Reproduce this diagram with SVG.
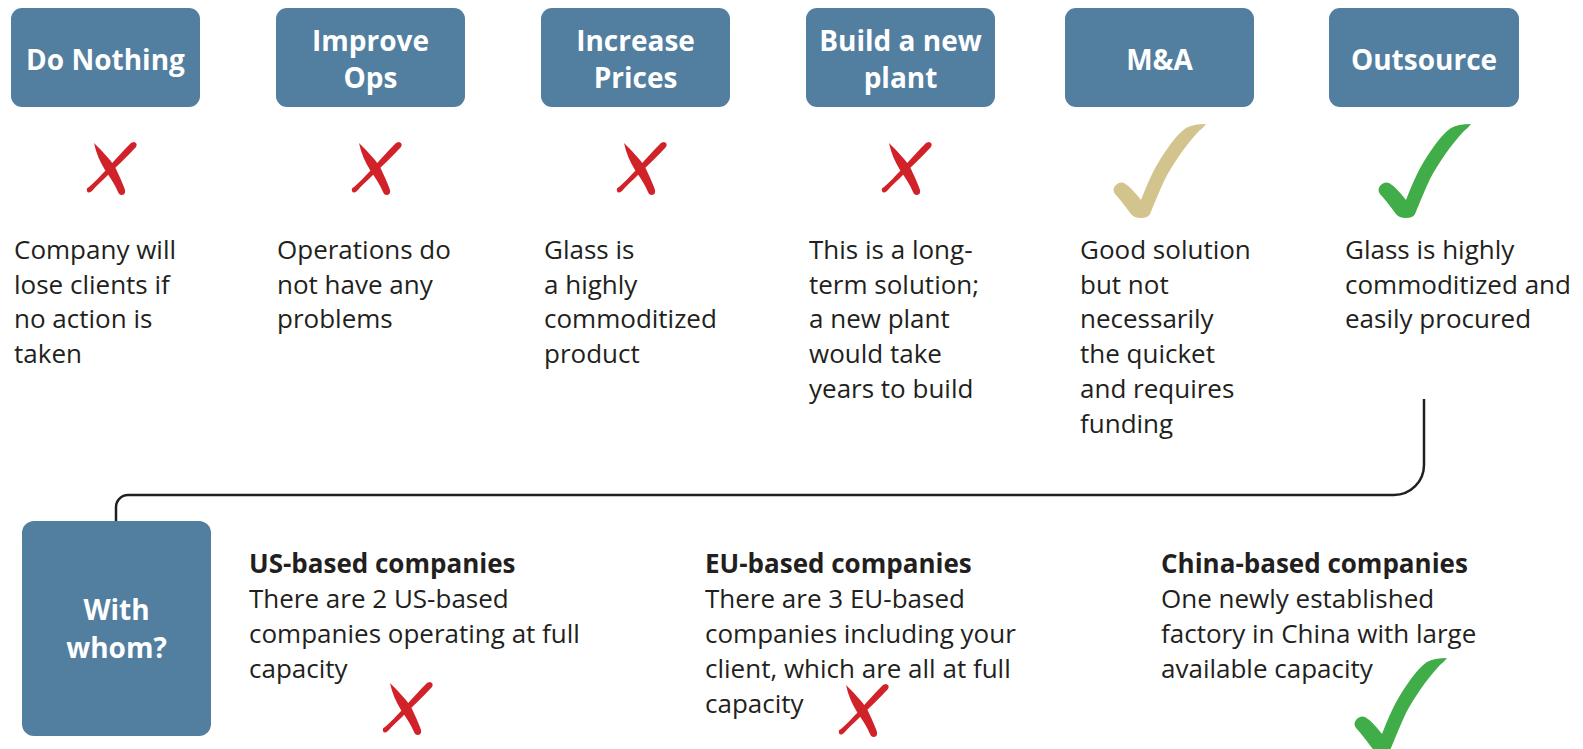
<svg xmlns="http://www.w3.org/2000/svg" width="1583" height="749" viewBox="0 0 1583 749">
<style>
.box{fill:#527ea0}
.bt{font-family:"Open Sans","Noto Sans",sans-serif;font-weight:700;font-size:28px;fill:#ffffff;text-anchor:middle}
.tx{font-family:"Open Sans","Noto Sans",sans-serif;font-size:26px;fill:#231f20}
.hd{font-family:"Open Sans","Noto Sans",sans-serif;font-size:26px;font-weight:700;fill:#231f20}
.red{fill:#d12229}
.tan{fill:#d3c48d}
.grn{fill:#41ad49}
.conn{fill:none;stroke:#231f20;stroke-width:2.5}
</style>
<defs>
<g id="cross">
<path d="M8,1 C15,8 24,17 29,25 C33,33 37,42 39,48 Q40,53 35,53 Q33,53 32,50 C29,43 24,35 19,28 C14,20 10,11 8,1 Z"/>
<path d="M48,0 Q52,1 50,5 C41,15 31,24 23,32 C16,39 10,44 6,49 Q2,52 1,49 Q0,46 3,45 C9,40 14,34 20,28 C27,20 36,10 43,3 Q45,0 48,0 Z"/>
</g>
<path id="check" d="M18,90 C12,82 6,74 2,70 Q-1,66 2,62 Q6,57 11,59 Q18,63 28,76 C34,60 42,42 52,28 C60,16 67,8 73,4 Q80,0 93,0 Q90,4 86,7 C72,22 60,40 52,55 C46,68 41,80 37,90 Q35,94 28,94 Q21,94 18,90 Z"/>
</defs>

<g id="connectors">
<path class="conn" d="M1424,399 V465 A30,30 0 0 1 1394,495 H128 A12,12 0 0 0 116,507 V521"/>
</g>

<g id="node-do-nothing">
<rect class="box" x="11" y="8" width="189" height="99" rx="11"/>
<text class="bt" x="105.5" y="70">Do Nothing</text>
<use href="#cross" class="red" x="86" y="142"/>
<text class="tx" x="14" y="259">Company will</text>
<text class="tx" x="14" y="294">lose clients if</text>
<text class="tx" x="14" y="328">no action is</text>
<text class="tx" x="14" y="363">taken</text>
</g>

<g id="node-improve-ops">
<rect class="box" x="276" y="8" width="189" height="99" rx="11"/>
<text class="bt" x="370.5" y="51">Improve</text>
<text class="bt" x="370.5" y="88">Ops</text>
<use href="#cross" class="red" x="351" y="142"/>
<text class="tx" x="277" y="259">Operations do</text>
<text class="tx" x="277" y="294">not have any</text>
<text class="tx" x="277" y="328">problems</text>
</g>

<g id="node-increase-prices">
<rect class="box" x="541" y="8" width="189" height="99" rx="11"/>
<text class="bt" x="635.5" y="51">Increase</text>
<text class="bt" x="635.5" y="88">Prices</text>
<use href="#cross" class="red" x="616" y="142"/>
<text class="tx" x="544" y="259">Glass is</text>
<text class="tx" x="544" y="294">a highly</text>
<text class="tx" x="544" y="328">commoditized</text>
<text class="tx" x="544" y="363">product</text>
</g>

<g id="node-build-plant">
<rect class="box" x="806" y="8" width="189" height="99" rx="11"/>
<text class="bt" x="900.5" y="51">Build a new</text>
<text class="bt" x="900.5" y="88">plant</text>
<use href="#cross" class="red" x="881" y="142"/>
<text class="tx" x="809" y="259">This is a long-</text>
<text class="tx" x="809" y="294">term solution;</text>
<text class="tx" x="809" y="328">a new plant</text>
<text class="tx" x="809" y="363">would take</text>
<text class="tx" x="809" y="398">years to build</text>
</g>

<g id="node-ma">
<rect class="box" x="1065" y="8" width="189" height="99" rx="11"/>
<text class="bt" x="1159.5" y="70">M&amp;A</text>
<use href="#check" class="tan" x="1113" y="124"/>
<text class="tx" x="1080" y="259">Good solution</text>
<text class="tx" x="1080" y="294">but not</text>
<text class="tx" x="1080" y="328">necessarily</text>
<text class="tx" x="1080" y="363">the quicket</text>
<text class="tx" x="1080" y="398">and requires</text>
<text class="tx" x="1080" y="433">funding</text>
</g>

<g id="node-outsource">
<rect class="box" x="1329" y="8" width="190" height="99" rx="11"/>
<text class="bt" x="1424" y="70">Outsource</text>
<use href="#check" class="grn" x="1378" y="124"/>
<text class="tx" x="1345" y="259">Glass is highly</text>
<text class="tx" x="1345" y="294">commoditized and</text>
<text class="tx" x="1345" y="328">easily procured</text>
</g>

<g id="node-with-whom">
<rect class="box" x="22" y="521" width="189" height="215" rx="12"/>
<text class="bt" x="116.5" y="620">With</text>
<text class="bt" x="116.5" y="658">whom?</text>
</g>

<g id="node-us">
<text class="hd" x="249" y="573">US-based companies</text>
<text class="tx" x="249" y="608">There are 2 US-based</text>
<text class="tx" x="249" y="643">companies operating at full</text>
<text class="tx" x="249" y="678">capacity</text>
<use href="#cross" class="red" x="382" y="682"/>
</g>

<g id="node-eu">
<text class="hd" x="705" y="573">EU-based companies</text>
<text class="tx" x="705" y="608">There are 3 EU-based</text>
<text class="tx" x="705" y="643">companies including your</text>
<text class="tx" x="705" y="678">client, which are all at full</text>
<text class="tx" x="705" y="713">capacity</text>
<use href="#cross" class="red" x="838" y="684"/>
</g>

<g id="node-china">
<text class="hd" x="1161" y="573">China-based companies</text>
<text class="tx" x="1161" y="608">One newly established</text>
<text class="tx" x="1161" y="643">factory in China with large</text>
<text class="tx" x="1161" y="678">available capacity</text>
<use href="#check" class="grn" x="1354" y="658"/>
</g>
</svg>
